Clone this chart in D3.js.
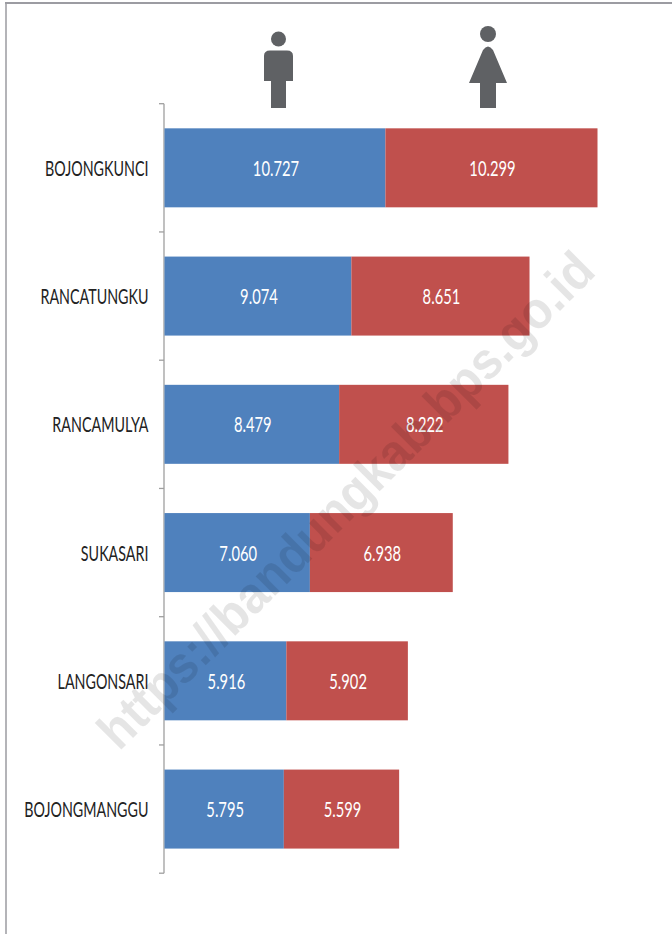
<!DOCTYPE html>
<html lang="en">
  <head>
    <meta charset="UTF-8" />
    <title>Penduduk menurut desa</title>
    <script src="https://d3js.org/d3.v7.min.js"></script>
    <style>
      body {
        margin: 0;
        background: #fff;
      }
      svg {
        display: block;
      }
      .cat text {
        font-family: Lato, sans-serif;
        font-size: 22px;
        fill: #222;
      }
      .val {
        font-family: Lato, sans-serif;
        font-size: 22px;
        fill: #fff;
        text-anchor: middle;
      }
    </style>
  </head>
  <body>
    <svg id="chart" width="672" height="934"></svg>

    <script>
      const villages = ["BOJONGKUNCI", "RANCATUNGKU", "RANCAMULYA", "SUKASARI", "LANGONSARI", "BOJONGMANGGU"];
      const male = [10727, 9074, 8479, 7060, 5916, 5795];
      const female = [10299, 8651, 8222, 6938, 5902, 5599];

      const svg = d3.select("#chart");
      const fmt = d3.formatLocale({ decimal: ",", thousands: ".", grouping: [3], currency: ["", ""] }).format(",d");

      // Lato is wider than the original's font, so squeeze it sideways
      const catSqueeze = 0.65;
      const valSqueeze = 0.67;

      // page frame from the original scan
      svg.append("path")
        .attr("d", "M6,934V3")
        .attr("fill", "none")
        .attr("stroke", "#b4b4b8")
        .attr("stroke-width", 2);
      svg.append("path")
        .attr("d", "M5,3H672")
        .attr("fill", "none")
        .attr("stroke", "#9c9ca2")
        .attr("stroke-width", 2);

      const x = d3.scaleLinear()
        .domain([0, d3.max(male, (d, i) => d + female[i])])
        .range([164.5, 597.5]);
      const y = d3.scaleBand()
        .domain(villages)
        .range([103.7, 873.2])
        .paddingInner(0.384)
        .paddingOuter(0.192);

      // category labels
      const yAxis = svg.append("g")
        .attr("class", "cat")
        .attr("transform", "translate(148.5,0)")
        .call(d3.axisLeft(y).tickSize(0).tickPadding(0));
      yAxis.select(".domain").remove();
      yAxis.selectAll("text")
        .attr("dy", "0.36em")
        .attr("transform", `scale(${catSqueeze},1)`);

      // axis line with ticks between the categories
      const edges = d3.range(villages.length + 1).map((i) => 103.7 + i * y.step());
      svg.append("line")
        .attr("x1", 164)
        .attr("x2", 164)
        .attr("y1", edges[0])
        .attr("y2", edges[edges.length - 1])
        .attr("stroke", "#9f9f9f")
        .attr("stroke-width", 1.3);
      svg.selectAll(".tick-mark")
        .data(edges)
        .enter()
        .append("line")
        .attr("class", "tick-mark")
        .attr("x1", 159)
        .attr("x2", 164)
        .attr("y1", (d) => d)
        .attr("y2", (d) => d)
        .attr("stroke", "#9f9f9f")
        .attr("stroke-width", 1.3);

      const rows = villages.map((name, i) => ({ name, m: male[i], f: female[i] }));

      svg.selectAll(".bar-m")
        .data(rows)
        .enter()
        .append("rect")
        .attr("class", "bar-m")
        .attr("x", x(0))
        .attr("y", (d) => y(d.name))
        .attr("width", (d) => x(d.m) - x(0))
        .attr("height", y.bandwidth())
        .attr("fill", "#4f81bd");

      svg.selectAll(".bar-f")
        .data(rows)
        .enter()
        .append("rect")
        .attr("class", "bar-f")
        .attr("x", (d) => x(d.m))
        .attr("y", (d) => y(d.name))
        .attr("width", (d) => x(d.m + d.f) - x(d.m))
        .attr("height", y.bandwidth())
        .attr("fill", "#c0504d");

      const valPos = (cx, d) => `translate(${cx + 1},${y(d.name) + y.bandwidth() / 2 + 8}) scale(${valSqueeze},1)`;

      svg.selectAll(".val-m")
        .data(rows)
        .enter()
        .append("text")
        .attr("class", "val val-m")
        .attr("transform", (d) => valPos((x(0) + x(d.m)) / 2, d))
        .text((d) => fmt(d.m));

      svg.selectAll(".val-f")
        .data(rows)
        .enter()
        .append("text")
        .attr("class", "val val-f")
        .attr("transform", (d) => valPos((x(d.m) + x(d.m + d.f)) / 2, d))
        .text((d) => fmt(d.f));

      // man and woman icons above the columns
      const iconColor = "#5f6164";
      const man = svg.append("g").attr("fill", iconColor);
      man.append("circle").attr("cx", 278.5).attr("cy", 39).attr("r", 7.5);
      man.append("path").attr("d", "M264,81V56Q264,50.5 270,50.5H287Q293,50.5 293,56V81H286V108H271V81Z");

      const woman = svg.append("g").attr("fill", iconColor);
      woman.append("circle").attr("cx", 488).attr("cy", 34).attr("r", 8);
      woman.append("path").attr("d", "M469,83L483,50Q488,43 493,50L507,83H496V108H480V83Z");

      // site watermark
      svg.append("text")
        .attr("transform", "translate(119,752) rotate(-45) scale(0.93,1)")
        .attr("font-family", "Liberation Sans, Arial, sans-serif")
        .attr("font-weight", "bold")
        .attr("font-size", 52)
        .attr("fill", "#000")
        .attr("fill-opacity", 0.1)
        .text("https://bandungkab.bps.go.id");
    </script>
  </body>
</html>
